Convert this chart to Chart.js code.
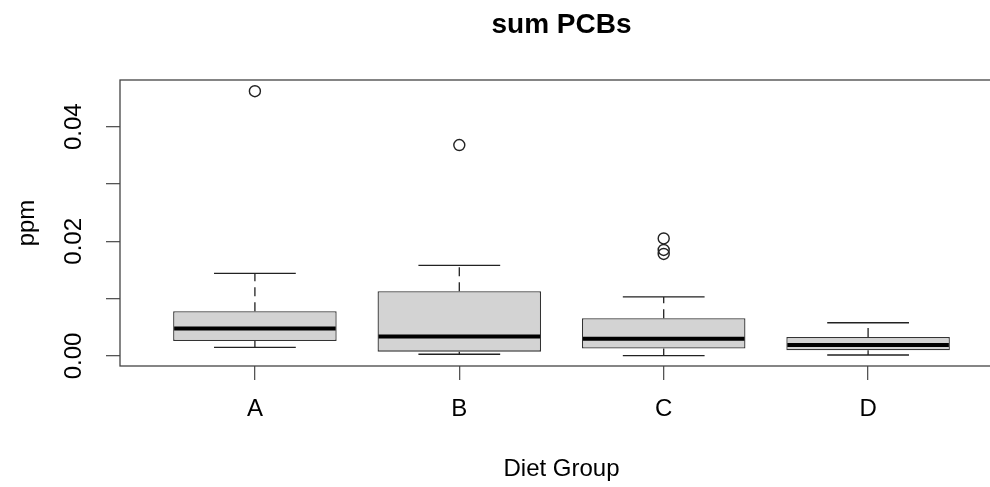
<!DOCTYPE html>
<html>
<head>
<meta charset="utf-8">
<script src="https://cdn.jsdelivr.net/npm/chart.js@4/dist/chart.umd.min.js"></script>
<style>
  html, body { margin: 0; padding: 0; background: #fff; overflow: hidden; }
  #wrap { width: 1030px; height: 487px; }
</style>
</head>
<body>
<div id="wrap"><canvas id="boxChart" width="1030" height="487"></canvas></div>
<script>
// Diet groups + Tukey box stats (ppm)
const groups = ['A', 'B', 'C', 'D'];
const lowerWhisker = [0.0015, 0.0003, 0.00005, 0.00017];
const q1 = [0.0026, 0.00075, 0.0013, 0.0010];
const median = [0.0048, 0.0034, 0.0030, 0.0019];
const q3 = [0.0078, 0.0113, 0.0066, 0.0033];
const upperWhisker = [0.0144, 0.0158, 0.0103, 0.0058];
const outliers = [[0.0462], [0.0368], [0.0205, 0.0185, 0.0178], []];
const yTicks = [0, 0.01, 0.02, 0.03, 0.04];

const fontFam = '"Liberation Sans", Arial, Helvetica, sans-serif';
const ink = '#222';

// box data -> floating bars
let boxData = groups.map((g, i) => ({ x: i + 1, y: [q1[i], q3[i]] }));
let outlierData = [];
outliers.forEach((list, i) => list.forEach(v => outlierData.push({ x: i + 1, y: v })));

// medians, whiskers, staples, frame
const boxExtras = {
    id: 'boxExtras',
    afterDatasetsDraw(chart) {
        const ctx = chart.ctx;
        const xs = chart.scales.x;
        const ys = chart.scales.y;
        const area = chart.chartArea;
        ctx.save();
        groups.forEach((g, i) => {
            let xc = xs.getPixelForValue(i + 1);
            let halfBox = xs.getPixelForValue(i + 1.4) - xc;
            let halfCap = xs.getPixelForValue(i + 1.2) - xc;

            // whiskers (dashed)
            ctx.strokeStyle = ink;
            ctx.lineWidth = 1.3;
            ctx.setLineDash([9, 6]);
            ctx.beginPath();
            ctx.moveTo(xc, ys.getPixelForValue(q3[i]));
            ctx.lineTo(xc, ys.getPixelForValue(upperWhisker[i]));
            ctx.moveTo(xc, ys.getPixelForValue(q1[i]));
            ctx.lineTo(xc, ys.getPixelForValue(lowerWhisker[i]));
            ctx.stroke();
            ctx.setLineDash([]);

            // staples
            ctx.beginPath();
            [upperWhisker[i], lowerWhisker[i]].forEach(v => {
                let yp = ys.getPixelForValue(v);
                ctx.moveTo(xc - halfCap, yp);
                ctx.lineTo(xc + halfCap, yp);
            });
            ctx.stroke();

            // median
            ctx.strokeStyle = '#000';
            ctx.lineWidth = 4;
            let ym = ys.getPixelForValue(median[i]);
            ctx.beginPath();
            ctx.moveTo(xc - halfBox + 1, ym);
            ctx.lineTo(xc + halfBox - 1, ym);
            ctx.stroke();
        });

        // plot frame
        ctx.strokeStyle = '#444';
        ctx.lineWidth = 1.3;
        ctx.strokeRect(area.left, area.top, area.right - area.left, area.bottom - area.top);
        ctx.restore();
    }
};

const config = {
    type: 'bar',
    data: {
        datasets: [
            {
                type: 'bar',
                label: 'box',
                data: boxData,
                backgroundColor: '#d3d3d3',
                borderColor: '#333',
                borderWidth: 1.3,
                borderSkipped: false,
                barPercentage: 0.8,
                categoryPercentage: 1.0,
            },
            {
                type: 'scatter',
                label: 'outliers',
                data: outlierData,
                pointStyle: 'circle',
                pointRadius: 5.5,
                backgroundColor: 'rgba(0,0,0,0)',
                borderColor: ink,
                borderWidth: 1.4,
            },
        ]
    },
    options: {
        responsive: false,
        animation: false,
        events: [],
        layout: { padding: { left: 0, right: 27, top: 0, bottom: 0 } },
        plugins: {
            legend: { display: false },
            tooltip: { enabled: false },
            title: {
                display: true,
                fullSize: false,   // centre over the plot, like R
                text: 'sum PCBs',
                color: '#000',
                font: { family: fontFam, size: 28, weight: 'bold' },
                padding: { top: 8, bottom: 38.4 },
            },
        },
        scales: {
            x: {
                type: 'linear',
                min: 0.34,
                max: 4.66,
                offset: false,
                afterBuildTicks: s => { s.ticks = groups.map((g, i) => ({ value: i + 1 })); },
                afterFit: s => { s.height = 121; },
                ticks: {
                    color: '#000',
                    font: { family: fontFam, size: 24 },
                    padding: 15,
                    maxRotation: 0,
                    callback: v => groups[v - 1],
                },
                grid: { offset: false, drawOnChartArea: false, drawTicks: true, tickLength: 14, color: '#555', lineWidth: 1.3 },
                border: { display: false },
                title: {
                    display: true,
                    text: 'Diet Group',
                    color: '#000',
                    font: { family: fontFam, size: 24 },
                    padding: { top: 0, bottom: 3 },
                },
            },
            y: {
                type: 'linear',
                min: -0.00175,
                max: 0.04815,
                afterBuildTicks: s => { s.ticks = yTicks.map(v => ({ value: v })); },
                afterFit: s => { s.width = 120; },
                ticks: {
                    color: '#000',
                    font: { family: fontFam, size: 24 },
                    minRotation: 90,
                    maxRotation: 90,
                    crossAlign: 'center',
                    padding: 8.6,
                    callback: v => (Math.round(v * 100) % 2 === 0 ? v.toFixed(2) : ''),
                },
                grid: { drawOnChartArea: false, drawTicks: true, tickLength: 14, color: '#555', lineWidth: 1.3 },
                border: { display: false },
                title: {
                    display: true,
                    text: 'ppm',
                    color: '#000',
                    font: { family: fontFam, size: 24 },
                    padding: { top: 12.6, bottom: 0 },
                },
            },
        },
    },
    plugins: [boxExtras],
};

new Chart(document.getElementById('boxChart'), config);
</script>
</body>
</html>
